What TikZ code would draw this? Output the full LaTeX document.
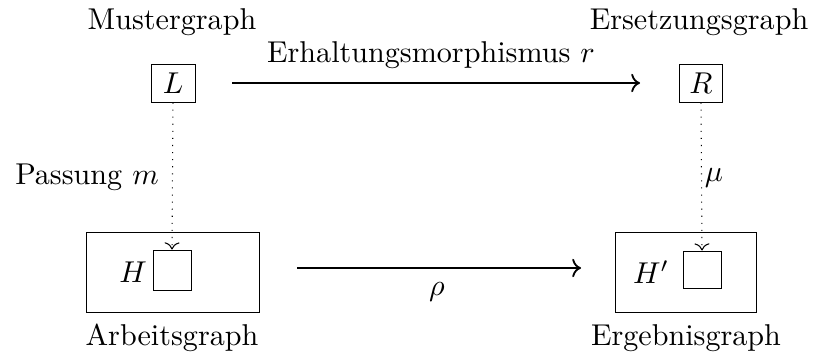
\documentclass[tikz,border=0pt]{standalone}
\usetikzlibrary{arrows.meta}
\begin{document}
\begin{tikzpicture}[x=0.332pt,y=-0.332pt,
  box/.style={draw,line width=0.33pt,inner sep=0pt,minimum width=#1*0.332pt},
  lbl/.style={inner sep=0pt},
  arr/.style={->,line width=0.6pt},
  dot/.style={->,dotted,line width=0.35pt}]
\useasboundingbox (0,0) rectangle (816,356);
\node[box=44,minimum height=38*0.332pt] (L) at (173,83) {$L$};
\node[box=43,minimum height=38*0.332pt] (R) at (701,83) {$R$};
\node[lbl] (tl) at (172,22) {Mustergraph};
\node[lbl] (tr) at (699,22) {Ersetzungsgraph};
\node[box=173,minimum height=80*0.332pt] (H) at (172.5,272) {};
\node[box=38,minimum height=40*0.332pt] (h) at (172,270) {};
\node[lbl] (Hl) at (133,272) {$H$};
\node[box=141,minimum height=80*0.332pt] (Hp) at (686,272) {};
\node[box=38,minimum height=37*0.332pt] (hp) at (702,269.5) {};
\node[lbl] (Hpl) at (651,272) {$H'$};
\node[lbl] (bl) at (172,338) {Arbeitsgraph};
\node[lbl] (br) at (686,338) {Ergebnisgraph};
\coordinate (a1) at (232,83);
\coordinate (a2) at (640,83);
\draw[arr] (a1) -- (a2);
\node[lbl] (al) at (431,55) {Erhaltungsmorphismus $r$};
\coordinate (b1) at (297,268);
\coordinate (b2) at (581,268);
\draw[arr] (b1) -- (b2);
\node[lbl] (bl2) at (437,292) {$\rho$};
\draw[dot] (L.south) -- (h.north);
\node[lbl] (ml) at (87,177) {Passung $m$};
\draw[dot] (R.south) -- (hp.north);
\node[lbl] (mu) at (714,178) {$\mu$};
\end{tikzpicture}
\end{document}
